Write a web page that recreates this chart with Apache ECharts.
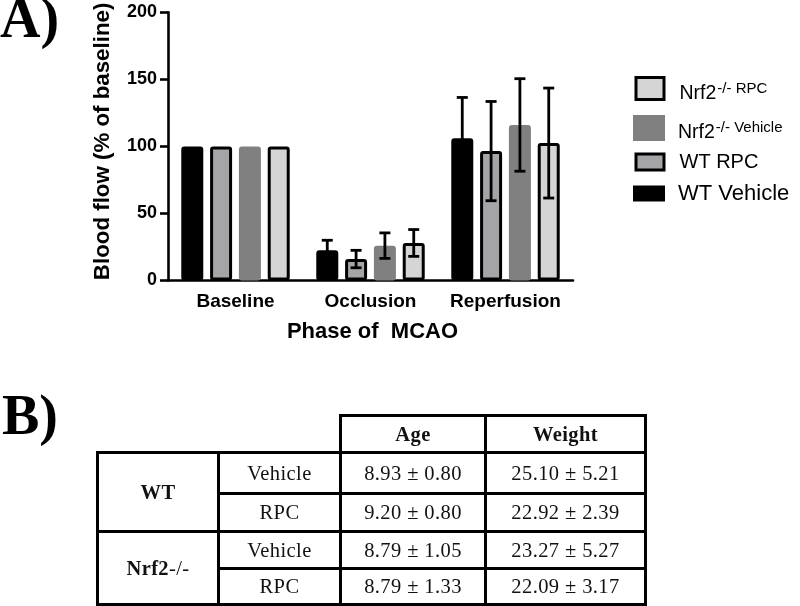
<!DOCTYPE html>
<html>
<head>
<meta charset="utf-8">
<script src="https://cdn.jsdelivr.net/npm/echarts@6/dist/echarts.min.js"></script>
<style>
  html, body { margin:0; padding:0; background:#fff; }
  #wrap { position:relative; width:800px; height:606px; overflow:hidden; }
  #chart { position:absolute; left:0; top:0; width:800px; height:606px; }
  #tbl { position:absolute; left:96px; top:414px; }
  #tbl table { border-collapse:collapse; table-layout:fixed; font-family:'Liberation Serif','Times New Roman',serif; font-size:20.5px; letter-spacing:0.4px; color:#111; }
  #tbl td { border:3px solid #000; text-align:center; padding:0; white-space:nowrap; }
  #tbl td.blank { border:none; }
  #tbl .b { font-weight:bold; }
</style>
</head>
<body>
<div id="wrap">
  <div id="chart"></div>
  <div id="tbl"></div>
</div>
<script>
// ---- Panel A data ----
const categories = ['Baseline', 'Occlusion', 'Reperfusion'];
const seriesNames = ['WT Vehicle', 'WT RPC', 'Nrf2-/- Vehicle', 'Nrf2-/- RPC'];
const wtVehicleMean  = [100, 22.5, 106];
const wtVehicleSD    = [0, 7.5, 30.5];
const wtRpcMean      = [100, 16, 96.5];
const wtRpcSD        = [0, 6.5, 37];
const nrfVehicleMean = [100, 26, 116];
const nrfVehicleSD   = [0, 9.5, 34.5];
const nrfRpcMean     = [100, 28, 102.5];
const nrfRpcSD       = [0, 10, 41];
const yTicks = [0, 50, 100, 150, 200];

// ---- Panel B data ----
const genotypes = ['WT', 'Nrf2-/-'];
const treatments = ['Vehicle', 'RPC', 'Vehicle', 'RPC'];
const ageMean = [8.93, 9.20, 8.79, 8.79];
const ageSD = [0.80, 0.80, 1.05, 1.33];
const weightMean = [25.10, 22.92, 23.27, 22.09];
const weightSD = [5.21, 2.39, 5.27, 3.17];
const tableHeaders = ['Age', 'Weight'];

// ---- styles ----
const means = [wtVehicleMean, wtRpcMean, nrfVehicleMean, nrfRpcMean];
const sds = [wtVehicleSD, wtRpcSD, nrfVehicleSD, nrfRpcSD];
const fills = ['#000000', '#a5a5a8', '#808080', '#d5d5d5'];
const borders = ['#000000', '#000000', '#808080', '#000000'];
const BAR_W = 22;
const BAR_GAP = 0.31;
const SANS = "'Liberation Sans', Arial, sans-serif";
const SERIF = "'Liberation Serif', 'Times New Roman', serif";

const n = seriesNames.length;
const pitch = BAR_W * (1 + BAR_GAP);

const series = [];
seriesNames.forEach((name, i) => {
  series.push({
    name: name,
    type: 'bar',
    data: means[i],
    barWidth: BAR_W,
    barGap: (BAR_GAP * 100) + '%',
    z: 2,
    itemStyle: { color: fills[i], borderColor: borders[i], borderWidth: 3, borderRadius: 1.5 }
  });
});
seriesNames.forEach((name, i) => {
  const offset = (i - (n - 1) / 2) * pitch;
  const data = categories.map((c, k) => [k, means[i][k], sds[i][k]]).filter(d => d[2] > 0);
  series.push({
    type: 'custom',
    z: 5,
    silent: true,
    data: data,
    renderItem: function (params, api) {
      const cx = api.coord([api.value(0), 0])[0] + offset;
      const m = api.value(1), s = api.value(2);
      const yt = api.coord([0, m + s])[1];
      const yb = api.coord([0, m - s])[1];
      const st = { stroke: '#000', lineWidth: 2.8 };
      const cap = 5.5;
      return {
        type: 'group',
        children: [
          { type: 'line', shape: { x1: cx, y1: yt, x2: cx, y2: yb }, style: st },
          { type: 'line', shape: { x1: cx - cap, y1: yt, x2: cx + cap, y2: yt }, style: st },
          { type: 'line', shape: { x1: cx - cap, y1: yb, x2: cx + cap, y2: yb }, style: st }
        ]
      };
    }
  });
});

function supLegend(pad) {
  return {
    formatter: function (nm) {
      const m = nm.match(/^(Nrf2)(.*)$/);
      return '{b|' + m[1] + '}{s|' + m[2] + '}';
    },
    textStyle: {
      color: '#000',
      rich: {
        b: { fontSize: 19.5, fontFamily: SANS, color: '#000', lineHeight: 22, padding: [10, 0, 0, pad] },
        s: { fontSize: 15, fontFamily: SANS, color: '#000', lineHeight: 15, padding: [0, 0, 0, 1] }
      }
    }
  };
}
function plainLegend(pad, fs) {
  return {
    formatter: function (nm) { return '{w|' + nm + '}'; },
    textStyle: {
      color: '#000',
      rich: { w: { fontSize: fs, fontFamily: SANS, color: '#000', lineHeight: 22, padding: [0, 0, 0, pad] } }
    }
  };
}

const legends = [
  Object.assign({ data: [seriesNames[3]], left: 634.5, top: 73.5, itemWidth: 28, itemHeight: 22,
    itemStyle: { borderColor: '#000', borderWidth: 3 } }, supLegend(10.5)),
  Object.assign({ data: [seriesNames[2]], left: 633, top: 113, itemWidth: 32, itemHeight: 26,
    itemStyle: { borderWidth: 0 } }, supLegend(8)),
  Object.assign({ data: [seriesNames[1]], left: 634.5, top: 152, itemWidth: 28, itemHeight: 16,
    itemStyle: { borderColor: '#000', borderWidth: 3 } }, plainLegend(10.5, 20)),
  Object.assign({ data: [seriesNames[0]], left: 633, top: 182.5, itemWidth: 32, itemHeight: 16,
    itemStyle: { borderWidth: 0 } }, plainLegend(8, 22))
].map(l => Object.assign({ icon: 'rect', orient: 'vertical', padding: 0, selectedMode: false }, l));

const chart = echarts.init(document.getElementById('chart'), null, { renderer: 'canvas' });
chart.setOption({
  animation: false,
  backgroundColor: '#fff',
  grid: { left: 168, right: 227, top: 12.3, bottom: 325.5, outerBoundsMode: 'none' },
  legend: legends,
  xAxis: {
    type: 'category',
    data: categories,
    name: 'Phase of  MCAO',
    nameLocation: 'middle',
    nameGap: 40,
    nameTextStyle: { fontFamily: SANS, fontWeight: 'bold', fontSize: 22, color: '#000', padding: [0, 0, 0, 4] },
    axisLine: { lineStyle: { color: '#000', width: 2.6 } },
    axisTick: { alignWithLabel: true, length: 8, lineStyle: { color: '#000', width: 2.6 } },
    axisLabel: { interval: 0, fontFamily: SANS, fontWeight: 'bold', fontSize: 19, color: '#000', margin: 12 },
    splitLine: { show: false }
  },
  yAxis: {
    type: 'value',
    min: yTicks[0],
    max: yTicks[yTicks.length - 1],
    interval: yTicks[1] - yTicks[0],
    name: 'Blood flow (% of baseline)',
    nameLocation: 'middle',
    nameRotate: 90,
    nameGap: 54,
    nameTextStyle: { fontFamily: SANS, fontWeight: 'bold', fontSize: 22.3, color: '#000', padding: [0, 0, 0, 10] },
    axisLine: { show: true, lineStyle: { color: '#000', width: 2.6 } },
    axisTick: { show: true, length: 8, lineStyle: { color: '#000', width: 2.6 } },
    axisLabel: { fontFamily: SANS, fontWeight: 'bold', fontSize: 18, color: '#000', margin: 11 },
    splitLine: { show: false }
  },
  graphic: [
    { type: 'text', left: 0, top: -5, style: { text: 'A)', font: "bold 56px " + SERIF, fill: '#000' } },
    { type: 'text', left: 2, top: 392, style: { text: 'B)', font: "bold 56px " + SERIF, fill: '#000' } }
  ],
  series: series
});

// ---- Panel B table ----
(function buildTable() {
  const colW = [121, 122, 145, 160];
  const rowH = [37, 41, 38, 37, 36];
  let h = '<table><colgroup>' + colW.map(w => '<col style="width:' + w + 'px">').join('') + '</colgroup>';
  h += '<tr style="height:' + rowH[0] + 'px"><td class="blank"></td><td class="blank"></td>' +
       tableHeaders.map(t => '<td class="b">' + t + '</td>').join('') + '</tr>';
  treatments.forEach((t, r) => {
    h += '<tr style="height:' + rowH[r + 1] + 'px">';
    if (r % 2 === 0) {
      const g = genotypes[r / 2];
      const m = g.match(/^([A-Za-z0-9]+)(.*)$/);
      h += '<td rowspan="2"><span class="b">' + m[1] + '</span>' + m[2] + '</td>';
    }
    h += '<td>' + t + '</td>';
    h += '<td>' + ageMean[r].toFixed(2) + ' \u00b1 ' + ageSD[r].toFixed(2) + '</td>';
    h += '<td>' + weightMean[r].toFixed(2) + ' \u00b1 ' + weightSD[r].toFixed(2) + '</td>';
    h += '</tr>';
  });
  h += '</table>';
  document.getElementById('tbl').innerHTML = h;
})();
</script>
</body>
</html>
